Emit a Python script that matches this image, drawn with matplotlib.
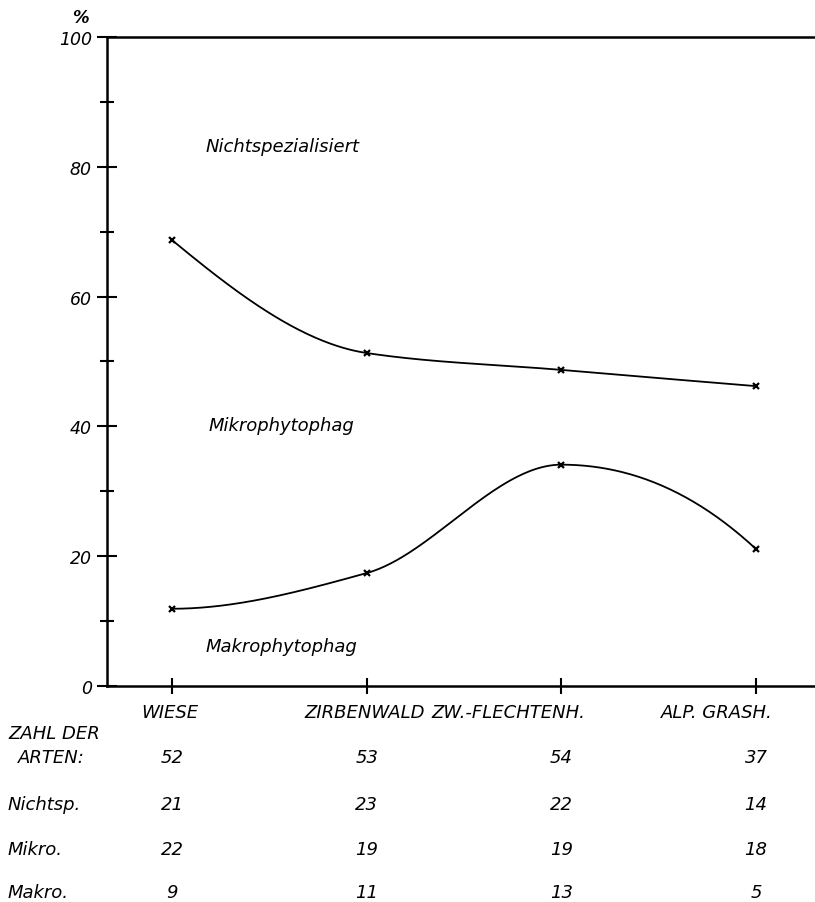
import numpy as np
import matplotlib
matplotlib.use("Agg")
import matplotlib.pyplot as plt
import matplotlib.transforms as mtransforms

# habitats (x categories)
habitats = ["WIESE", "ZIRBENWALD", "ZW.-FLECHTENH.", "ALP. GRASH."]
# boundary Nichtspezialisiert / Mikrophytophag (%)
upper = [68.7, 51.3, 48.7, 46.2]
# boundary Mikrophytophag / Makrophytophag (%)
lower = [11.9, 17.4, 34.1, 21.1]

# species counts table
row_names = ["Nichtsp.", "Mikro.", "Makro."]
total = ["52", "53", "54", "37"]
nichtsp = ["21", "23", "22", "14"]
mikro = ["22", "19", "19", "18"]
makro = ["9", "11", "13", "5"]


def pchip(x, y, xs):
    # monotone cubic hermite, just for drawing the smooth curves
    x = np.asarray(x, float)
    y = np.asarray(y, float)
    h = np.diff(x)
    d = np.diff(y) / h
    n = len(x)
    m = np.zeros(n)
    for k in range(1, n - 1):
        if d[k - 1] * d[k] <= 0:
            m[k] = 0.0
        else:
            w1 = 2 * h[k] + h[k - 1]
            w2 = h[k] + 2 * h[k - 1]
            m[k] = (w1 + w2) / (w1 / d[k - 1] + w2 / d[k])

    def end(h0, h1, d0, d1):
        s = ((2 * h0 + h1) * d0 - h0 * d1) / (h0 + h1)
        if np.sign(s) != np.sign(d0):
            s = 0.0
        elif np.sign(d0) != np.sign(d1) and abs(s) > 3 * abs(d0):
            s = 3 * d0
        return s

    m[0] = end(h[0], h[1], d[0], d[1])
    m[-1] = end(h[-1], h[-2], d[-1], d[-2])
    out = np.empty_like(xs)
    for i, xv in enumerate(xs):
        k = min(np.searchsorted(x, xv, side="right") - 1, n - 2)
        k = max(k, 0)
        t = (xv - x[k]) / h[k]
        h00 = 2 * t**3 - 3 * t**2 + 1
        h10 = t**3 - 2 * t**2 + t
        h01 = -2 * t**3 + 3 * t**2
        h11 = t**3 - t**2
        out[i] = h00 * y[k] + h10 * h[k] * m[k] + h01 * y[k + 1] + h11 * h[k] * m[k + 1]
    return out


FS = 13

fig = plt.figure(figsize=(8.15, 9.03), dpi=100)
ax = fig.add_axes([0.1313, 0.2392, 0.8687, 0.7188])

xpos = np.arange(len(habitats))
xs = np.linspace(0, 3, 300)

for vals in (upper, lower):
    ax.plot(xs, pchip(xpos, vals, xs), color="black", lw=1.3)
    ax.plot(xpos, vals, linestyle="none", marker="x", color="black",
            markersize=5, markeredgewidth=1.6)

ax.set_xlim(-0.334, 3.0 + (815 - 756) / 194.7)
ax.set_ylim(0, 100)

ax.spines["right"].set_visible(False)
for s in ("left", "bottom", "top"):
    ax.spines[s].set_linewidth(1.8)

ax.set_xticks(xpos)
ax.set_xticklabels([])
ax.tick_params(axis="x", direction="inout", length=12, width=1.5)
ax.set_yticks(np.arange(0, 101, 20))
ax.set_yticks(np.arange(10, 100, 20), minor=True)
ax.set_yticklabels([str(v) for v in range(0, 101, 20)], fontsize=12.5, style="italic")
ax.tick_params(axis="y", which="major", direction="inout", length=14, width=1.5, pad=4)
ax.tick_params(axis="y", which="minor", direction="inout", length=10, width=1.5)

ax.text(-0.47, 103.0, "%", fontsize=12, style="italic", fontweight="bold",
        ha="center", va="center", clip_on=False)

# region labels
ax.text(0.17, 83.2, "Nichtspezialisiert", fontsize=FS, style="italic", va="center")
ax.text(0.19, 40.2, "Mikrophytophag", fontsize=FS, style="italic", va="center")
ax.text(0.17, 6.2, "Makrophytophag", fontsize=FS, style="italic", va="center")

# table under the axis
tr = mtransforms.blended_transform_factory(ax.transData, fig.transFigure)
label_x = [-0.01, 0.99, 1.73, 2.8]
for lx, name in zip(label_x, habitats):
    ax.text(lx, 1 - 713 / 903, name, transform=tr, fontsize=FS, style="italic",
            ha="center", va="center")

fig.text(8 / 815, 1 - 734 / 903, "ZAHL DER", fontsize=FS, style="italic", va="center")
fig.text(18 / 815, 1 - 758 / 903, "ARTEN:", fontsize=FS, style="italic", va="center")

rows = [(758, total), (805, nichtsp), (850, mikro), (893, makro)]
for (ypix, vals) in rows:
    for xv, v in zip(xpos, vals):
        ax.text(xv, 1 - ypix / 903, v, transform=tr, fontsize=FS, style="italic",
                ha="center", va="center")

for ypix, name in zip([805, 850, 893], row_names):
    fig.text(8 / 815, 1 - ypix / 903, name, fontsize=FS, style="italic", va="center")

plt.savefig("out.png", dpi=100)
